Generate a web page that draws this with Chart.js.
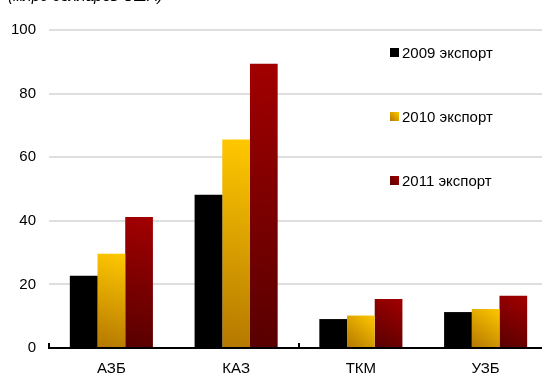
<!DOCTYPE html>
<html>
<head>
<meta charset="utf-8">
<script src="https://cdn.jsdelivr.net/npm/chart.js@4"></script>
<style>
  html, body { margin: 0; padding: 0; background: #fff; overflow: hidden; }
  #wrap { position: relative; width: 542px; height: 375px; overflow: hidden; }
  #units { position: absolute; left: 8px; top: -13px; font: italic 15px "Liberation Sans", Arial, sans-serif; color: #000; white-space: nowrap; }
  #box { position: absolute; left: 0; top: 0; width: 550px; height: 375px; }
</style>
</head>
<body>
<div id="wrap">
  <div id="box"><canvas id="myChart" width="550" height="375"></canvas></div>
  <div id="units">(млрд долларов США)</div>
</div>
<script>
var categories = ['АЗБ', 'КАЗ', 'ТКМ', 'УЗБ'];
var seriesNames = ['2009 экспорт', '2010 экспорт', '2011 экспорт'];
var export2009 = [22.7, 48.2, 9.1, 11.3];
var export2010 = [29.6, 65.6, 10.2, 12.3];
var export2011 = [41.2, 89.4, 15.4, 16.4];
var yTicks = [0, 20, 40, 60, 80, 100];

// top / bottom colours of each series fill
var shades = [
  ['#000000', '#000000'],
  ['#ffc800', '#b57800'],
  ['#a20000', '#580000']
];

var FONT = '"Liberation Sans", Arial, sans-serif';

// diagonal gradient per bar, bright at top-right, dark at bottom-left
var barGradients = {
  id: 'barGradients',
  beforeDatasetsDraw: function(chart) {
    var ctx = chart.ctx;
    chart.data.datasets.forEach(function(ds, i) {
      chart.getDatasetMeta(i).data.forEach(function(bar) {
        var half = bar.width / 2;
        var g = ctx.createLinearGradient(bar.x + half, bar.y, bar.x - half, bar.base);
        g.addColorStop(0, shades[i][0]);
        g.addColorStop(1, shades[i][1]);
        // options are shared between bars, so give each its own copy
        bar.options = Object.assign({}, bar.options, { backgroundColor: g });
      });
    });
  }
};

// short upward tick marks on the category axis, every second category
var axisTicks = {
  id: 'axisTicks',
  afterDatasetsDraw: function(chart) {
    var x = chart.scales.x;
    var ctx = chart.ctx;
    var step = (x.right - x.left) / categories.length;
    ctx.save();
    ctx.strokeStyle = '#000';
    ctx.lineWidth = 2;
    for (var i = 0; i <= categories.length; i += 2) {
      var px = Math.round(x.left + i * step);
      ctx.beginPath();
      ctx.moveTo(px, x.top - 5);
      ctx.lineTo(px, x.top);
      ctx.stroke();
    }
    ctx.restore();
  }
};

// legend stacked inside the plot on the right
var sideLegend = {
  id: 'sideLegend',
  afterDraw: function(chart) {
    var ctx = chart.ctx;
    var area = chart.chartArea;
    ctx.save();
    ctx.font = '15px ' + FONT;
    ctx.textBaseline = 'middle';
    seriesNames.forEach(function(name, i) {
      var cy = area.top + 23 + i * 64;
      var bx = area.left + 341;
      var g = ctx.createLinearGradient(bx + 9, cy - 5, bx, cy + 4);
      g.addColorStop(0, shades[i][0]);
      g.addColorStop(1, shades[i][1]);
      ctx.fillStyle = g;
      ctx.fillRect(bx, cy - 5, 9, 9);
      ctx.fillStyle = '#000';
      ctx.fillText(name, bx + 12, cy + 1);
    });
    ctx.restore();
  }
};

var datasets = [export2009, export2010, export2011].map(function(values, i) {
  return {
    label: seriesNames[i],
    data: values,
    backgroundColor: shades[i][0],
    borderWidth: 0,
    barPercentage: 1,
    categoryPercentage: 0.666
  };
});

var ctx = document.getElementById('myChart').getContext('2d');
var myChart = new Chart(ctx, {
  type: 'bar',
  data: { labels: categories, datasets: datasets },
  plugins: [barGradients, axisTicks, sideLegend],
  options: {
    responsive: false,
    animation: false,
    layout: { padding: { top: 30, right: 2, bottom: 0, left: 0 } },
    plugins: { legend: { display: false }, tooltip: { enabled: false } },
    scales: {
      x: {
        afterFit: function(scale) { scale.height = 27; },
        grid: { display: false },
        border: { display: true, color: '#000', width: 2 },
        ticks: { color: '#000', font: { family: FONT, size: 15 }, padding: 4 }
      },
      y: {
        min: 0,
        max: 100,
        afterBuildTicks: function(scale) {
          scale.ticks = yTicks.map(function(v) { return { value: v }; });
        },
        afterFit: function(scale) { scale.width = 49; },
        grid: { color: '#dedede', lineWidth: 2, drawTicks: false },
        border: { display: false },
        ticks: { color: '#000', font: { family: FONT, size: 15 }, padding: 13 }
      }
    }
  }
});
</script>
</body>
</html>
